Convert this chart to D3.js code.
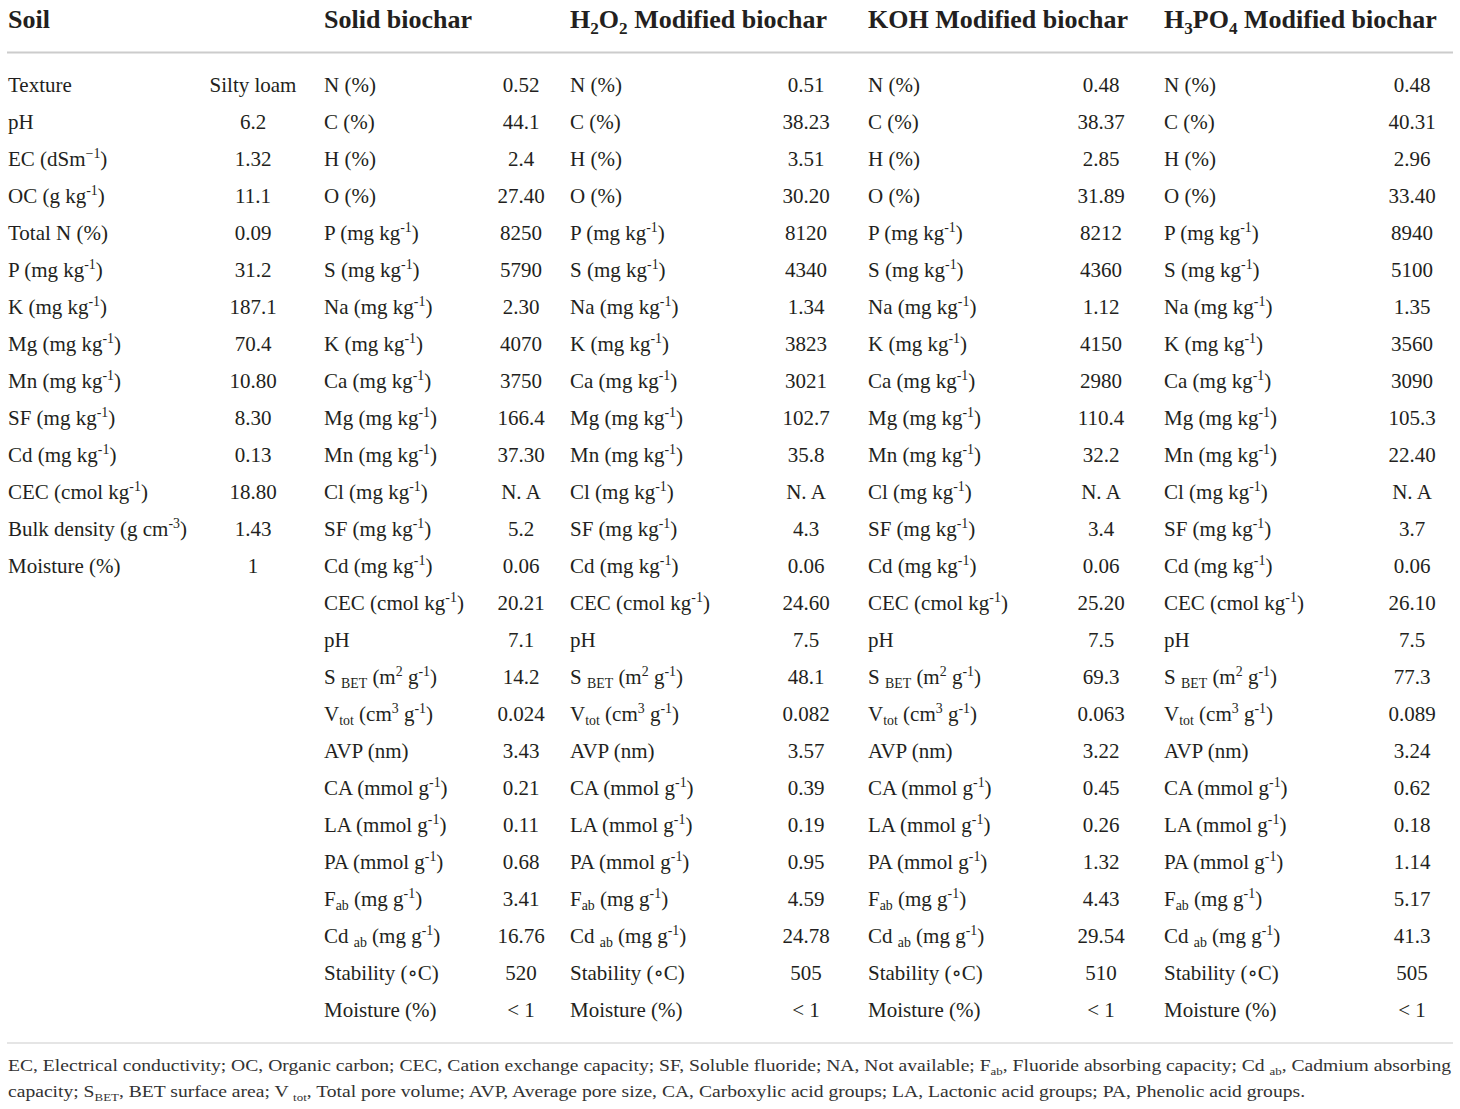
<!DOCTYPE html>
<html>
<head>
<meta charset="utf-8">
<script src="https://cdn.jsdelivr.net/npm/d3@7.9.0/dist/d3.min.js"></script>
<style>
  body { margin: 0; background: #fff; }
  svg text { font-family: "Liberation Serif", "DejaVu Serif", serif; fill: #231f20; white-space: pre; }
</style>
</head>
<body>
<svg id="tbl" width="1460" height="1109"></svg>
<script>
// Soil column
const soilParams = ["Texture", "pH", "EC (dSm^{−1})", "OC (g kg^{-1})", "Total N (%)", "P (mg kg^{-1})",
  "K (mg kg^{-1})", "Mg (mg kg^{-1})", "Mn (mg kg^{-1})", "SF (mg kg^{-1})", "Cd (mg kg^{-1})",
  "CEC (cmol kg^{-1})", "Bulk density (g cm^{-3})", "Moisture (%)"];
const soilValues = ["Silty loam", "6.2", "1.32", "11.1", "0.09", "31.2", "187.1", "70.4", "10.80",
  "8.30", "0.13", "18.80", "1.43", "1"];

// Biochar columns (same parameter list for each)
const biocharTypes = ["Solid biochar", "H_{2}O_{2} Modified biochar", "KOH Modified biochar",
  "H_{3}PO_{4} Modified biochar"];
const biocharParams = ["N (%)", "C (%)", "H (%)", "O (%)", "P (mg kg^{-1})", "S (mg kg^{-1})",
  "Na (mg kg^{-1})", "K (mg kg^{-1})", "Ca (mg kg^{-1})", "Mg (mg kg^{-1})", "Mn (mg kg^{-1})",
  "Cl (mg kg^{-1})", "SF (mg kg^{-1})", "Cd (mg kg^{-1})", "CEC (cmol kg^{-1})", "pH",
  "S _{BET} (m^{2} g^{-1})", "V_{tot} (cm^{3} g^{-1})", "AVP (nm)", "CA (mmol g^{-1})",
  "LA (mmol g^{-1})", "PA (mmol g^{-1})", "F_{ab} (mg g^{-1})", "Cd _{ab} (mg g^{-1})",
  "Stability (∘C)", "Moisture (%)"];
const solidValues = ["0.52", "44.1", "2.4", "27.40", "8250", "5790", "2.30", "4070", "3750", "166.4",
  "37.30", "N. A", "5.2", "0.06", "20.21", "7.1", "14.2", "0.024", "3.43", "0.21", "0.11", "0.68",
  "3.41", "16.76", "520", "< 1"];
const h2o2Values = ["0.51", "38.23", "3.51", "30.20", "8120", "4340", "1.34", "3823", "3021", "102.7",
  "35.8", "N. A", "4.3", "0.06", "24.60", "7.5", "48.1", "0.082", "3.57", "0.39", "0.19", "0.95",
  "4.59", "24.78", "505", "< 1"];
const kohValues = ["0.48", "38.37", "2.85", "31.89", "8212", "4360", "1.12", "4150", "2980", "110.4",
  "32.2", "N. A", "3.4", "0.06", "25.20", "7.5", "69.3", "0.063", "3.22", "0.45", "0.26", "1.32",
  "4.43", "29.54", "510", "< 1"];
const h3po4Values = ["0.48", "40.31", "2.96", "33.40", "8940", "5100", "1.35", "3560", "3090", "105.3",
  "22.40", "N. A", "3.7", "0.06", "26.10", "7.5", "77.3", "0.089", "3.24", "0.62", "0.18", "1.14",
  "5.17", "41.3", "505", "< 1"];

const footnotes = [
  "EC, Electrical conductivity; OC, Organic carbon; CEC, Cation exchange capacity; SF, Soluble fluoride; NA, Not available; F_{ab}, Fluoride absorbing capacity; Cd _{ab}, Cadmium absorbing",
  "capacity; S_{BET}, BET surface area; V _{tot}, Total pore volume; AVP, Average pore size, CA, Carboxylic acid groups; LA, Lactonic acid groups; PA, Phenolic acid groups."
];

// build columns from the arrays
const columns = [
  { title: "Soil", params: soilParams, values: soilValues },
  ...biocharTypes.map((t, i) => ({
    title: t, params: biocharParams,
    values: [solidValues, h2o2Values, kohValues, h3po4Values][i]
  }))
];

// layout
const labelX = d3.scaleOrdinal().domain(d3.range(5)).range([8, 324, 570, 868, 1164]);
const valueX = d3.scaleOrdinal().domain(d3.range(5)).range([253, 521, 806, 1101, 1412]);
const rowY = d3.scaleLinear().domain([0, 25]).range([91.5, 1016.5]);
const bodySize = 21;

const svg = d3.select("#tbl");

// parse "^{..}" as superscript and "_{..}" as subscript
function segments(str) {
  const out = [];
  const re = /([\^_])\{([^}]*)\}/g;
  let last = 0, m;
  while ((m = re.exec(str))) {
    if (m.index > last) out.push({ t: str.slice(last, m.index), k: "n" });
    out.push({ t: m[2], k: m[1] === "^" ? "sup" : "sub" });
    last = re.lastIndex;
  }
  if (last < str.length) out.push({ t: str.slice(last), k: "n" });
  return out;
}

function addRich(text, str, fs) {
  let shift = 0;
  segments(str).forEach(s => {
    const target = s.k === "sup" ? -0.38 * fs : s.k === "sub" ? 0.22 * fs : 0;
    text.append("tspan")
      .attr("dy", target - shift)
      .attr("font-size", s.k === "n" ? fs : fs * 0.66)
      .text(s.t);
    shift = target;
  });
  return text;
}

// header
columns.forEach((c, ci) => {
  const t = svg.append("text")
    .attr("x", labelX(ci)).attr("y", 28)
    .attr("font-weight", "bold").attr("font-size", 26);
  addRich(t, c.title, 26);
});

svg.append("line")
  .attr("x1", 7).attr("x2", 1453).attr("y1", 52.5).attr("y2", 52.5)
  .attr("stroke", "#cccccc").attr("stroke-width", 2);

// body
columns.forEach((c, ci) => {
  const g = svg.append("g");
  c.params.forEach((p, ri) => {
    const t = g.append("text")
      .attr("x", labelX(ci)).attr("y", rowY(ri)).attr("font-size", bodySize);
    addRich(t, p, bodySize);
  });
  c.values.forEach((v, ri) => {
    g.append("text")
      .attr("x", valueX(ci)).attr("y", rowY(ri))
      .attr("text-anchor", "middle").attr("font-size", bodySize)
      .text(v);
  });
});

svg.append("line")
  .attr("x1", 7).attr("x2", 1453).attr("y1", 1043).attr("y2", 1043)
  .attr("stroke", "#cccccc").attr("stroke-width", 1.2);

// footnote, squeezed/stretched so the first line spans the table width
const footSize = 16.5;
const foot = footnotes.map((f, i) => {
  const t = svg.append("text")
    .attr("x", 0).attr("y", 0).attr("font-size", footSize).style("fill", "#333");
  addRich(t, f, footSize);
  return t;
});
const w0 = foot[0].node().getComputedTextLength();
const k = (1452 - 8) / w0;
foot.forEach((t, i) => {
  t.attr("transform", `translate(8,${1071 + i * 26}) scale(${k},1)`);
});
</script>
</body>
</html>
